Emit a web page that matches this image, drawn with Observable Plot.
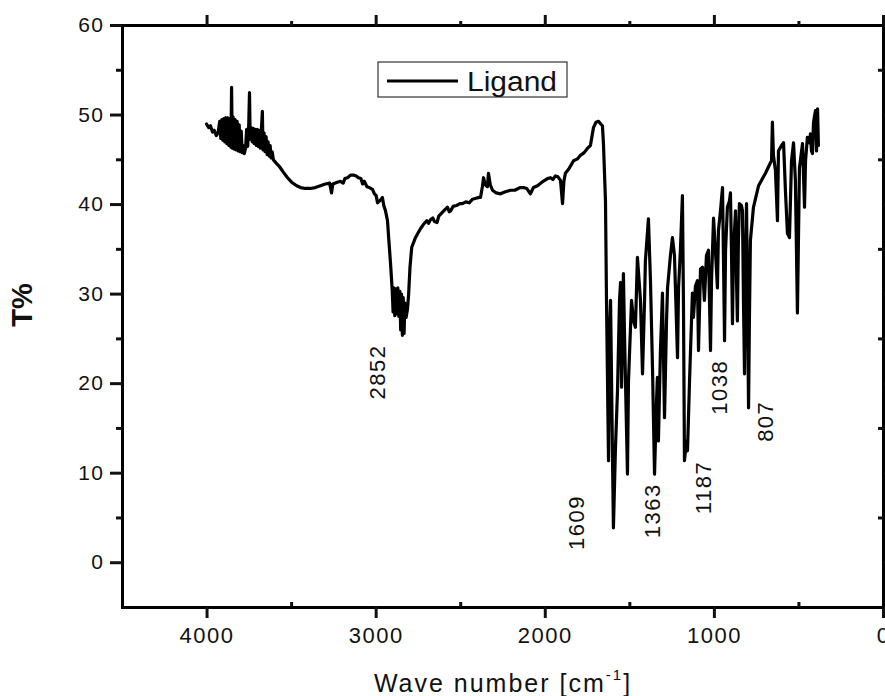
<!DOCTYPE html>
<html><head><meta charset="utf-8">
<script src="https://cdn.jsdelivr.net/npm/d3@7"></script>
<script src="https://cdn.jsdelivr.net/npm/@observablehq/plot@0.6"></script>
<style>
html,body{margin:0;padding:0;background:#fff;}
#chart{position:relative;width:885px;height:696px;overflow:hidden;}
svg text{font-family:"Liberation Sans",Arial,sans-serif;}
svg g[aria-label="x-axis tick label"] text, svg g[aria-label="y-axis tick label"] text{letter-spacing:1.5px;}
svg g.peaks text{letter-spacing:1.5px;}
</style></head><body><div id="chart"></div>
<script>
// IR spectrum of the ligand: wavenumber (cm-1) and transmittance (T%)
const wavenumber = [
4003,3990,3980,3968,3958,3945,3935,
3925,3919,3913,3907,3901,3895,3889,3883,3877,3871,3865,3859,3855,3851,3846,3840,3834,3828,3822,3816,3810,3804,3798,3792,3786,3780,
3772,3766,3760,3754,3749,3745,3739,3733,3727,3721,3715,3709,3703,3697,3691,3685,3679,3673,3669,3663,3657,3651,3645,3639,3633,3627,3621,3615,3608,
3590,3570,3548,3524,3500,3470,3447,3420,3390,3360,3330,3300,3275,3264,3256,3230,3211,3195,3185,3170,3150,3134,3118,3105,3090,3080,3070,3055,3040,3022,3010,3000,2992,2975,2963,2955,2945,2933,2925,2915,2905,
2900,2895,2890,2884,2878,2872,2866,2860,2855,2850,2845,2840,2835,2830,2823,2815,2808,2800,2790,2770,2750,2738,2720,2700,2690,2679,2665,2655,2640,2630,2610,2595,2578,2568,2560,2545,2525,2505,2490,2470,2450,2430,2410,2390,
2383,2372,2365,2355,2342,2336,2325,2312,2290,2265,2240,2206,2180,2150,2129,2110,2088,2070,2046,2020,1987,1969,1955,1940,1925,1910,1898,1890,1881,1860,1833,1810,1792,1770,1750,1733,1715,1700,1685,1672,1662,
1656,1644,1638,1626,1620,1614,1603,1597,1585,1573,1561,1555,1549,1538,1532,1514,1508,1490,1478,1467,1455,1437,1425,1413,1408,1390,1378,1366,1354,1342,1337,1331,1319,1307,1295,1283,1277,1260,1248,1236,1218,1212,1201,1189,1183,1177,1165,1159,1147,1130,1124,1112,1100,1094,1082,1070,1059,1047,1035,1023,1017,1005,994,982,976,964,952,946,940,934,923,911,905,899,893,887,875,869,864,858,852,840,834,828,822,816,810,804,798,793,787,769,739,698,668,662,657,651,639,627,621,603,591,580,568,556,544,532,521,509,497,479,467,461,450,438,432,426,420,414,408,402,396,390,385
];
const transmittance = [
49.0,48.6,48.8,48.1,48.3,47.7,48.0,
49.3,47.4,49.5,47.2,49.6,47.0,49.7,46.8,49.7,46.6,49.6,46.4,53.1,46.3,49.8,46.2,49.5,46.1,49.3,46.0,48.9,45.9,48.2,45.8,46.6,45.7,
46.3,48.4,46.5,48.6,52.5,47.3,48.6,47.0,48.5,46.8,48.4,46.6,48.4,46.5,48.3,46.3,48.2,50.4,46.1,48.0,45.9,47.6,45.6,47.0,45.4,46.6,45.2,45.9,45.0,
44.6,44.2,43.6,43.0,42.5,42.1,41.9,41.8,41.8,41.9,42.1,42.3,42.4,41.3,42.3,42.5,42.6,42.4,42.9,43.0,43.3,43.3,43.2,43.0,42.9,42.3,42.6,42.0,41.9,41.7,41.2,41.0,40.2,40.5,40.8,39.9,39.3,38.2,36.0,33.4,30.4,
28.0,30.7,27.6,30.6,27.8,30.7,27.5,30.3,26.0,30.0,25.4,29.6,25.6,29.0,27.4,28.3,30.0,33.0,35.2,36.2,36.9,37.3,37.8,38.2,37.9,38.3,38.5,38.1,38.0,38.7,39.1,39.4,39.7,39.2,39.3,39.8,39.9,40.1,40.1,40.3,40.2,40.6,40.7,40.8,
40.8,42.0,43.0,42.2,42.0,43.5,42.2,41.6,41.3,41.2,41.4,41.6,41.6,41.9,41.9,41.8,41.2,41.9,42.1,42.5,42.9,43.0,42.8,43.2,43.1,42.7,40.1,42.6,43.5,44.0,44.9,45.1,45.5,45.8,46.3,46.6,48.6,49.2,49.3,49.0,48.8,
46.8,40.4,29.3,11.4,26.0,29.3,12.5,3.9,12.8,19.2,29.3,31.3,19.6,32.3,25.9,9.9,20.3,29.3,27.0,26.3,34.1,29.3,21.1,29.3,33.7,38.4,31.5,21.8,9.9,18.1,20.7,13.6,23.7,30.1,16.2,27.0,30.7,34.3,36.3,34.3,22.9,30.7,34.9,41.0,29.3,11.4,13.6,12.5,20.3,30.1,27.4,30.9,31.5,23.7,32.8,33.0,29.3,34.3,34.9,23.7,31.5,38.5,34.9,30.7,37.1,39.3,41.9,33.7,24.8,34.9,39.7,40.4,41.3,34.9,26.7,34.9,39.3,31.5,27.0,36.0,40.1,39.9,39.3,29.3,21.1,33.7,40.1,29.3,17.3,27.0,36.0,39.7,42.1,43.5,44.7,44.9,49.2,45.5,43.8,38.2,46.0,46.6,46.9,41.6,36.8,36.3,44.9,46.9,42.7,27.9,44.1,46.8,39.7,44.9,47.5,46.9,47.9,46.0,45.7,49.1,49.9,50.5,46.0,50.7,46.6
];
// axis ticks
const majorX = [0, 1000, 2000, 3000, 4000];
const minorX = [500, 1500, 2500, 3500];
const majorY = [0, 10, 20, 30, 40, 50, 60];
const minorY = [5, 15, 25, 35, 45, 55];
// peak annotations
const peakLabels = ["2852", "1609", "1363", "1187", "1038", "807"];
const peakLabelWN = [2992, 1810, 1366, 1064, 970, 698];
const peakLabelT = [21.3, 4.5, 5.8, 8.4, 19.6, 15.8];
const seriesName = "Ligand";
const xTitleMain = "Wave number [cm";
const xTitleSup = "-1";
const xTitleEnd = "]";
const yTitle = "T%";

const spectrum = wavenumber.map((w, i) => ({w, t: transmittance[i]}));
const labels = peakLabels.map((s, i) => ({label: s, w: peakLabelWN[i], t: peakLabelT[i]}));

const fmt = d => String(d);
const plot = Plot.plot({
  width: 885, height: 696,
  marginLeft: 122, marginRight: 2, marginTop: 25, marginBottom: 89,
  x: {domain: [4500, 0]},
  y: {domain: [-5, 60]},
  style: {fontFamily: "Liberation Sans, Arial, sans-serif", fontSize: "22px", color: "#111", background: "white", overflow: "visible"},
  marks: [
    Plot.line(spectrum, {x: "w", y: "t", stroke: "#000", strokeWidth: 3.2, strokeLinejoin: "round"}),
    Plot.text(labels, {x: "w", y: "t", text: "label", rotate: -90, fontSize: 22, fill: "#111", textAnchor: "middle", lineAnchor: "middle", className: "peaks"}),
    Plot.frame({stroke: "#000", strokeWidth: 3}),
    Plot.axisX(majorX, {anchor: "bottom", tickSize: 11, tickPadding: 9, strokeWidth: 3, label: null, tickFormat: fmt, fontSize: 22}),
    Plot.axisX(minorX, {anchor: "bottom", tickSize: -5, strokeWidth: 3, label: null, tickFormat: () => ""}),
    Plot.axisX(majorX, {anchor: "top", tickSize: 11, strokeWidth: 3, label: null, tickFormat: () => ""}),
    Plot.axisX(minorX, {anchor: "top", tickSize: 5, strokeWidth: 3, label: null, tickFormat: () => ""}),
    Plot.axisY(majorY, {anchor: "left", tickSize: 12, tickPadding: 6, strokeWidth: 3, label: null, tickFormat: fmt, fontSize: 21}),
    Plot.axisY(minorY, {anchor: "left", tickSize: 6, strokeWidth: 3, label: null, tickFormat: () => ""}),
    Plot.axisY(majorY, {anchor: "right", tickSize: 11, strokeWidth: 3, label: null, tickFormat: () => ""}),
    Plot.axisY(minorY, {anchor: "right", tickSize: -6, strokeWidth: 3, label: null, tickFormat: () => ""})
  ]
});
document.getElementById("chart").appendChild(plot);

const svg = d3.select(plot);
// legend
const lg = svg.append("g").attr("class", "legend").attr("text-anchor", "start");
lg.append("rect").attr("x", 378).attr("y", 62).attr("width", 189).attr("height", 35)
  .attr("fill", "white").attr("stroke", "#333").attr("stroke-width", 1.2);
lg.append("line").attr("x1", 387).attr("x2", 458).attr("y1", 81).attr("y2", 81)
  .attr("stroke", "#000").attr("stroke-width", 3);
lg.append("text").attr("x", 467).attr("y", 91).attr("font-size", 27).attr("fill", "#111")
  .attr("text-anchor", "start")
  .attr("textLength", 90).attr("lengthAdjust", "spacingAndGlyphs").text(seriesName);
// x title
const xt = svg.append("text").attr("x", 503).attr("y", 692).attr("text-anchor", "middle")
  .attr("font-size", 25).attr("fill", "#111").style("letter-spacing", "2px");
xt.append("tspan").text(xTitleMain);
xt.append("tspan").attr("font-size", 15).attr("dy", -12).text(xTitleSup);
xt.append("tspan").attr("dy", 12).text(xTitleEnd);
// y title
svg.append("text").attr("transform", "translate(32,305) rotate(-90)").attr("text-anchor", "middle")
  .attr("font-size", 29).attr("font-weight", "bold").attr("fill", "#111").text(yTitle);
</script></body></html>
